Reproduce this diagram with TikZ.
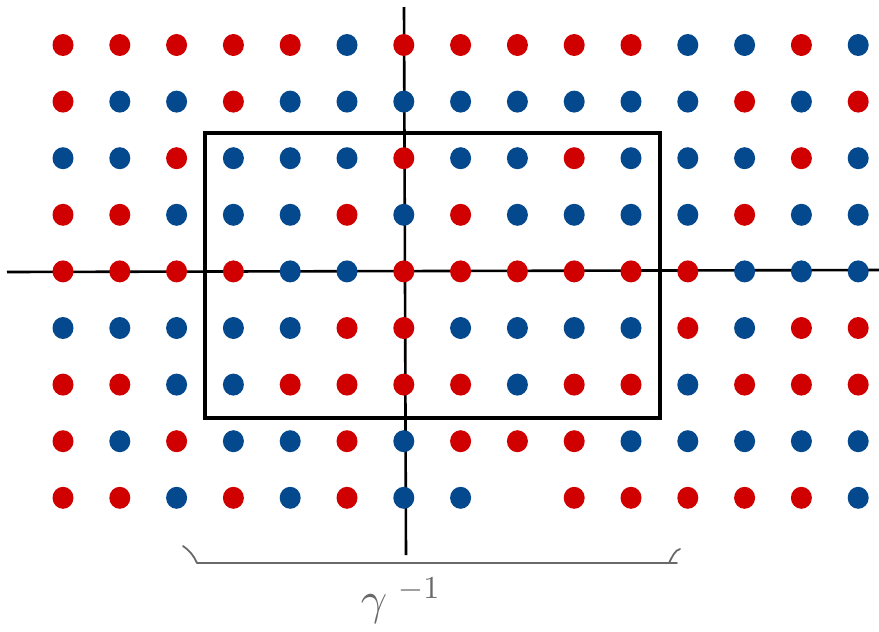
\documentclass[tikz,border=0pt]{standalone}
\definecolor{dotred}{RGB}{208,0,0}
\definecolor{dotblue}{RGB}{4,72,142}
\definecolor{pengray}{RGB}{105,105,105}
\begin{document}
\begin{tikzpicture}[x=1pt,y=-1pt,
  R/.style={fill=dotred},
  B/.style={fill=dotblue},
  X/.style={},
  axis/.style={line width=2.6pt,black},
  box/.style={line width=4.2pt,black},
  brace/.style={line width=1.8pt,pengray,line cap=round,line join=round}]
\useasboundingbox (0,0) rectangle (879,632);
% axes
\coordinate (hl) at (7,272);
\coordinate (hr) at (879,270);
\coordinate (vt) at (404,7);
\coordinate (vb) at (406,555);
\draw[axis] (hl) -- (hr);
\draw[axis] (vt) -- (vb);
% rectangle
\coordinate (r1) at (205,133);
\coordinate (r2) at (660,418);
\draw[box] (r1) rectangle (r2);
% dots
\foreach \row [count=\j] in {
 {R,R,R,R,R,B,R,R,R,R,R,B,B,R,B},
 {R,B,B,R,B,B,B,B,B,B,B,B,R,B,R},
 {B,B,R,B,B,B,R,B,B,R,B,B,B,R,B},
 {R,R,B,B,B,R,B,R,B,B,B,B,R,B,B},
 {R,R,R,R,B,B,R,R,R,R,R,R,B,B,B},
 {B,B,B,B,B,R,R,B,B,B,B,R,B,R,R},
 {R,R,B,B,R,R,R,R,B,R,R,B,R,R,R},
 {R,B,R,B,B,R,B,R,R,R,B,B,B,B,B},
 {R,R,B,R,B,R,B,B,X,R,R,R,R,R,B}} {
  \foreach \c [count=\i] in \row {
    \path[\c] ({63+(\i-1)*56.8},{45+(\j-1)*56.6}) ellipse [x radius=10.5pt, y radius=11pt];
  }
}
% brace
\coordinate (bl0) at (183,546);
\coordinate (bl1) at (197,563);
\coordinate (br1) at (677,563);
\coordinate (br0) at (669,563);
\coordinate (br2) at (680,549);
\draw[brace] (bl0) .. controls (190,551) and (194,556) .. (bl1) -- (br1);
\draw[brace] (br0) .. controls (672,557) and (675,550) .. (br2);
% label
\node[text=pengray,scale=4.6,inner sep=0pt] (gam) at (374,609) {$\gamma$};
\node[text=pengray,scale=3.2,inner sep=0pt] (exp) at (419,590) {$-1$};
\end{tikzpicture}
\end{document}
